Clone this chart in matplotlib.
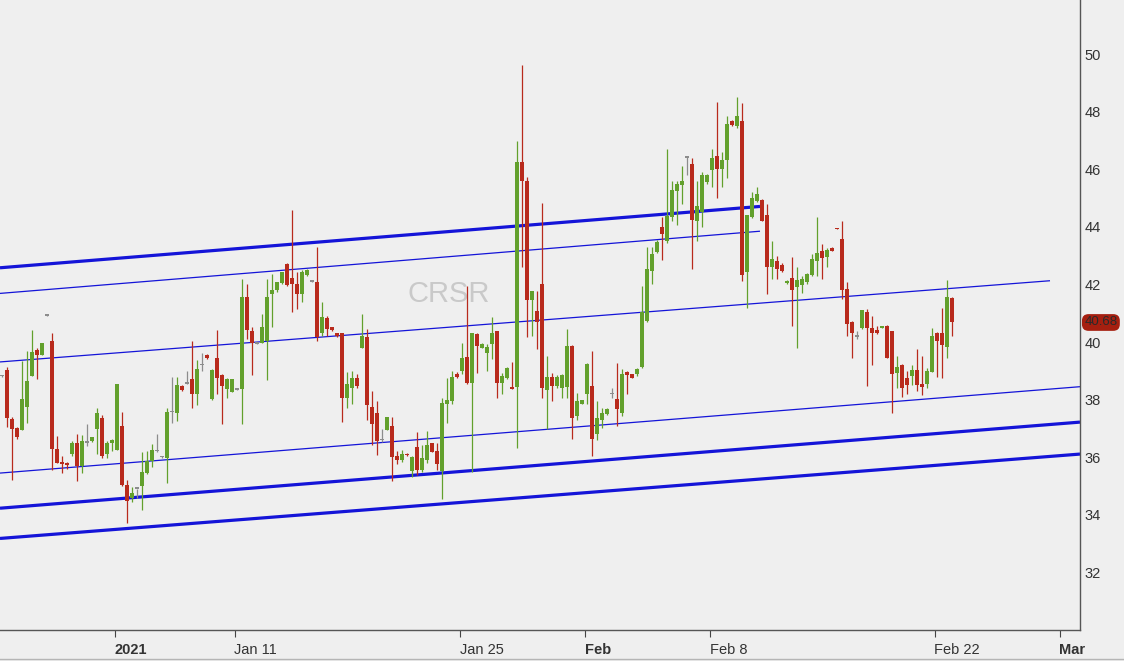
import numpy as np
import pandas as pd
import matplotlib
matplotlib.use('Agg')
import matplotlib.pyplot as plt
from matplotlib.transforms import blended_transform_factory

# %% CRSR, 5 bars per session; first bar is the last bar of Dec 24
opens = [38.82, 39.02, 37.32, 37.02, 36.94, 37.74, 38.82, 39.72, 39.55, 40.91,
         40.02, 36.27, 35.84, 35.79, 36.10, 36.50, 35.69, 36.50, 36.56, 36.99,
         37.37, 36.10, 36.50, 36.24, 37.10, 35.05, 34.59, 34.90, 34.99, 35.46,
         35.86, 36.20, 36.01, 35.98, 37.57, 37.55, 38.47, 38.55, 38.71, 38.19,
         39.20, 39.55, 38.03, 39.46, 38.86, 38.36, 38.28, 38.34, 38.38, 41.57,
         40.39, 39.95, 39.98, 40.04, 41.67, 41.81, 42.04, 42.71, 42.22, 42.02,
         41.67, 42.34, 42.10, 42.10, 40.30, 40.83, 40.51, 40.30, 40.30, 38.07,
         38.42, 38.74, 39.79, 40.16, 37.74, 37.55, 36.60, 36.93, 37.10, 36.04,
         35.92, 36.12, 35.52, 36.35, 35.54, 35.92, 36.49, 36.21, 35.52, 37.86,
         37.95, 38.88, 39.00, 39.48, 38.59, 40.27, 39.81, 39.63, 39.95, 40.37,
         38.59, 38.76, 38.44, 38.44, 46.25, 45.61, 41.46, 41.09, 42.02, 38.33,
         38.79, 38.47, 38.42, 38.44, 39.87, 37.43, 37.86, 38.21, 38.47, 36.80,
         37.31, 37.49, 38.19, 38.01, 37.55, 38.96, 38.88, 38.88, 39.14, 40.74,
         42.48, 43.14, 43.99, 43.52, 44.33, 45.26, 45.44, 46.40, 46.17, 44.22,
         44.51, 45.55, 45.99, 46.45, 46.02, 46.31, 47.68, 47.49, 47.68, 42.42,
         44.36, 44.89, 44.94, 44.43, 42.62, 42.83, 42.69, 42.05, 42.22, 41.90,
         41.99, 42.07, 42.34, 42.80, 43.15, 42.94, 43.27, 43.95, 43.58, 41.84,
         40.70, 40.18, 40.48, 41.03, 40.50, 40.42, 40.50, 40.56, 40.37, 38.94,
         39.20, 38.76, 38.82, 39.02, 38.53, 38.55, 38.97, 40.30, 40.33, 39.83,
         41.53]
highs = [38.85, 39.15, 37.40, 37.05, 39.34, 39.69, 40.41, 39.81, 39.98, 40.93,
         40.31, 36.73, 36.04, 35.85, 36.58, 36.79, 36.77, 37.14, 36.72, 37.72,
         37.46, 36.58, 36.62, 38.53, 37.57, 35.20, 34.98, 34.91, 36.19, 36.23,
         36.47, 36.79, 36.03, 37.72, 38.79, 38.79, 38.50, 38.99, 40.02, 39.37,
         39.63, 39.57, 39.06, 40.41, 38.90, 38.75, 38.71, 38.36, 42.19, 42.02,
         40.51, 39.97, 40.97, 42.19, 42.36, 42.10, 42.45, 42.73, 44.57, 42.42,
         42.50, 42.55, 42.12, 43.29, 41.38, 40.90, 40.53, 40.32, 40.32, 38.97,
         38.99, 38.90, 40.99, 40.47, 38.30, 37.95, 36.97, 37.40, 37.40, 36.20,
         36.25, 36.14, 36.05, 36.88, 36.44, 36.91, 36.50, 36.50, 38.07, 38.76,
         39.00, 38.95, 39.98, 41.96, 40.31, 40.31, 39.96, 39.93, 40.88, 40.37,
         38.94, 39.15, 39.30, 47.00, 49.62, 45.73, 41.76, 41.76, 44.82, 39.52,
         38.94, 38.85, 38.88, 40.45, 39.90, 38.24, 38.00, 39.29, 39.69, 37.95,
         37.70, 37.70, 38.40, 39.29, 39.07, 38.98, 38.90, 39.10, 41.96, 43.31,
         43.30, 43.55, 44.34, 46.72, 45.60, 45.60, 46.10, 46.42, 46.40, 45.60,
         45.90, 45.85, 46.70, 48.34, 46.60, 47.85, 47.72, 48.52, 48.30, 44.43,
         45.20, 45.40, 44.97, 44.80, 43.50, 43.00, 42.75, 42.14, 42.97, 42.60,
         42.30, 42.40, 43.06, 44.36, 43.40, 43.25, 43.29, 43.96, 44.22, 42.07,
         40.72, 40.40, 41.13, 41.15, 40.90, 40.55, 40.57, 40.58, 40.40, 39.50,
         39.25, 39.00, 39.20, 39.75, 39.50, 39.10, 40.50, 40.35, 41.20, 42.15,
         41.55]
lows = [38.80, 37.06, 35.20, 36.65, 36.94, 37.20, 38.82, 38.71, 39.55, 40.89,
        35.57, 35.80, 35.46, 35.60, 36.05, 35.17, 35.46, 36.39, 36.54, 36.10,
        35.97, 35.98, 36.21, 36.24, 34.99, 33.72, 34.45, 34.59, 34.16, 35.42,
        35.66, 36.19, 35.99, 35.11, 37.18, 37.25, 38.30, 38.55, 37.70, 37.83,
        38.98, 39.42, 38.00, 38.19, 37.16, 38.05, 38.28, 38.32, 37.16, 40.10,
        38.86, 39.93, 39.98, 38.67, 40.53, 41.75, 42.00, 41.95, 41.03, 41.14,
        41.40, 42.30, 42.08, 40.04, 40.20, 40.21, 40.40, 40.19, 37.23, 37.72,
        37.86, 38.40, 39.79, 37.31, 36.44, 36.07, 36.53, 36.93, 35.17, 35.76,
        35.85, 36.05, 35.30, 35.40, 35.50, 35.80, 36.19, 35.57, 34.55, 37.20,
        37.84, 38.75, 38.88, 38.53, 35.50, 38.94, 39.78, 38.98, 39.40, 38.07,
        38.21, 38.70, 38.36, 36.33, 42.59, 40.18, 40.22, 39.75, 38.07, 36.97,
        37.96, 38.40, 38.07, 38.07, 36.62, 37.31, 37.84, 37.84, 36.04, 36.60,
        37.00, 37.45, 38.05, 37.08, 37.44, 38.19, 38.74, 38.82, 39.10, 40.70,
        42.00, 43.10, 42.86, 43.43, 44.20, 44.08, 44.80, 45.79, 42.54, 43.50,
        44.00, 45.50, 45.40, 45.01, 45.40, 45.70, 47.50, 47.45, 42.11, 41.20,
        44.30, 44.85, 44.20, 41.67, 42.20, 42.20, 42.45, 42.03, 40.56, 39.80,
        41.70, 42.00, 42.30, 42.30, 42.20, 42.60, 43.16, 43.91, 41.49, 40.21,
        39.46, 40.10, 40.45, 38.47, 39.20, 40.28, 40.48, 39.44, 37.55, 38.40,
        38.10, 38.20, 38.50, 38.30, 38.15, 38.40, 38.95, 38.80, 38.76, 39.44,
        40.20]
closes = [38.82, 37.35, 36.99, 36.70, 38.01, 38.65, 39.67, 39.55, 39.98, 40.91,
          36.27, 35.80, 35.75, 35.72, 36.50, 35.69, 36.58, 36.50, 36.70, 37.55,
          36.06, 36.50, 36.59, 38.53, 35.05, 34.49, 34.76, 34.90, 35.48, 35.86,
          36.25, 36.20, 36.01, 37.57, 37.57, 38.50, 38.32, 38.55, 38.21, 39.06,
          39.20, 39.44, 39.03, 38.76, 38.47, 38.71, 38.71, 38.34, 41.57, 40.42,
          39.98, 39.95, 40.51, 41.57, 41.81, 42.07, 42.42, 41.99, 42.02, 41.67,
          42.42, 42.50, 42.10, 40.18, 40.88, 40.47, 40.42, 40.21, 38.07, 38.56,
          38.74, 38.47, 40.21, 37.81, 37.16, 36.56, 36.60, 37.40, 36.00, 35.92,
          36.10, 36.07, 36.01, 35.54, 35.96, 36.44, 36.19, 35.75, 37.89, 37.98,
          38.79, 38.79, 39.46, 38.59, 40.31, 39.87, 39.93, 39.83, 40.33, 38.59,
          38.82, 39.11, 38.36, 46.25, 45.61, 41.46, 41.76, 40.68, 38.42, 38.79,
          38.47, 38.79, 38.86, 39.87, 37.37, 37.95, 37.98, 39.23, 36.62, 37.35,
          37.55, 37.66, 38.19, 37.66, 38.88, 38.86, 38.76, 39.06, 41.06, 42.54,
          43.06, 43.46, 43.76, 44.39, 45.28, 45.49, 45.61, 46.40, 44.24, 44.71,
          45.79, 45.79, 46.40, 46.02, 46.31, 47.59, 47.53, 47.84, 42.34, 44.43,
          45.01, 45.13, 44.22, 42.62, 42.89, 42.54, 42.48, 42.12, 41.81, 42.15,
          42.19, 42.36, 42.89, 43.08, 42.92, 43.20, 43.18, 43.92, 41.81, 40.64,
          40.30, 40.18, 41.11, 40.48, 40.33, 40.30, 40.55, 39.46, 38.90, 39.13,
          38.42, 38.51, 39.02, 38.51, 38.44, 38.99, 40.21, 40.02, 39.90, 41.57,
          40.68]

# channel lines: start/end bar and price
line_x0 = [-1.4, -1.4, -1.4, -1.4, -1.4, -1.4]
line_x1 = [150.6, 150.6, 208.6, 214.6, 214.6, 214.6]
line_p0 = [42.58, 41.69, 39.31, 35.45, 34.23, 33.18]
line_p1 = [44.71, 43.85, 42.13, 38.45, 37.22, 36.11]
line_lw = [2.3, 0.9, 0.9, 0.9, 2.3, 2.3]

tick_dates = ['2021-01-04', '2021-01-11', '2021-01-25', '2021-02-01', '2021-02-08', '2021-02-22', '2021-03-01']
tick_labels = ['2021', 'Jan 11', 'Jan 25', 'Feb', 'Feb 8', 'Feb 22', 'Mar']
bold_labels = ['2021', 'Feb', 'Mar']
holidays = ['2021-01-01', '2021-01-18', '2021-02-15']
bars_per_day = 5
symbol = 'CRSR'

# %%
plt.rcParams['font.family'] = ['Liberation Sans', 'DejaVu Sans']
bg = '#efefef'
up_c, dn_c, flat_c = '#62a02c', '#b82a1c', '#8c8c8c'

o = np.array(opens)
h = np.array(highs)
l = np.array(lows)
c = np.array(closes)
x = np.arange(len(o)) - 1

colors = np.where(c > o, up_c, np.where(c < o, dn_c, flat_c))
body_lo = np.minimum(o, c)
body_h = np.maximum(np.abs(c - o), 0.05)

fig = plt.figure(figsize=(11.24, 6.61), dpi=100, facecolor=bg)
ax = fig.add_axes([0, 31 / 661, 1080 / 1124, 630 / 661], facecolor=bg)

for i in range(6):
    ax.plot([line_x0[i], line_x1[i]], [line_p0[i], line_p1[i]], color='#1414d8',
            lw=line_lw[i], solid_capstyle='butt', zorder=1)

ax.vlines(x, l, h, colors=colors, lw=0.9, zorder=2)
ax.bar(x, body_h, bottom=body_lo, width=0.7, color=colors, linewidth=0, zorder=3)

ax.text(0.415, 0.534, symbol, transform=ax.transAxes, fontsize=21, color='#c9c9c9',
        ha='center', va='center', zorder=0)

# price tag
tr = blended_transform_factory(ax.transAxes, ax.transData)
ax.text(1.004, c[-1], '%.2f' % c[-1], transform=tr, fontsize=9.5, color='#2a2a2a',
        ha='left', va='center', clip_on=False,
        bbox=dict(boxstyle='round,pad=0.18,rounding_size=0.5', fc='#a51f10', ec='none'))

# x ticks from trading calendar
days = pd.bdate_range('2020-12-28', '2021-03-05')
days = days[~days.isin(pd.to_datetime(holidays))]
tick_pos = [bars_per_day * days.get_loc(pd.Timestamp(d)) + 0.5 for d in tick_dates]
tick_pos[0] += 1  # year label sits one bar into the session
ax.set_xticks(tick_pos)
ax.set_xticklabels(tick_labels, ha='left')
for t in ax.get_xticklabels():
    if t.get_text() in bold_labels:
        t.set_fontweight('bold')

ax.set_xlim(-1.4, 214.6)
ax.set_ylim(30, 51.88)
ax.set_yticks(np.arange(32, 51, 2))
ax.yaxis.tick_right()
ax.tick_params(axis='y', length=0, pad=3.5, labelsize=10.5, labelcolor='#333333')
ax.tick_params(axis='x', length=5, width=0.8, color='#444444', pad=4,
               labelsize=10.5, labelcolor='#333333')

for s in ['left', 'top']:
    ax.spines[s].set_visible(False)
for s in ['right', 'bottom']:
    ax.spines[s].set_color('#555555')
    ax.spines[s].set_linewidth(1)

fig.add_artist(plt.Line2D([0, 1], [0.003, 0.003], color='#b5b5b5', lw=1))

fig.savefig('out.png', dpi=100, facecolor=bg)
